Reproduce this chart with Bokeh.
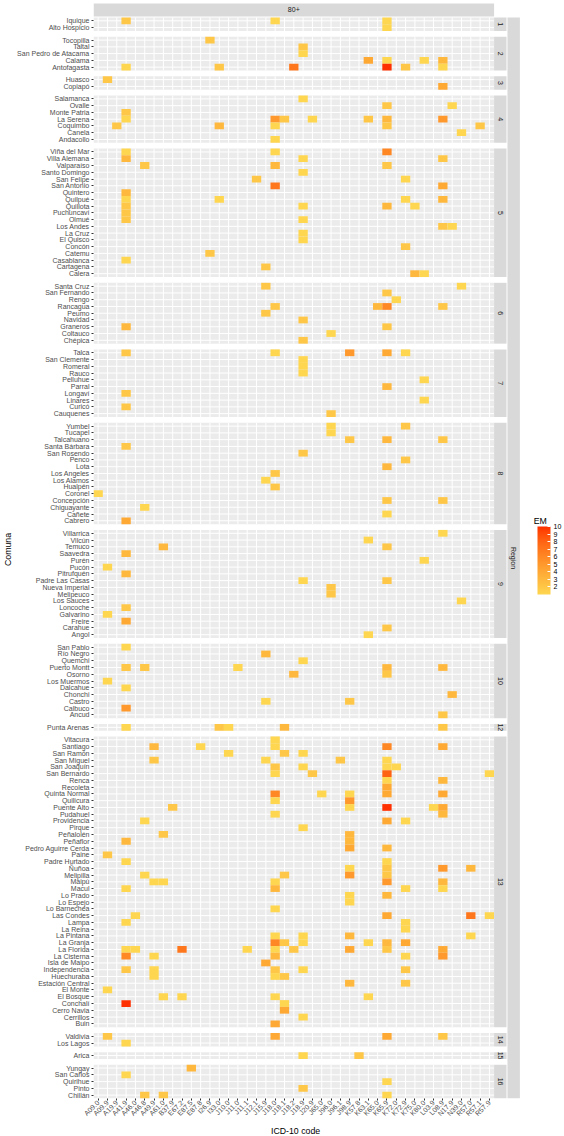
import math
from bokeh.plotting import figure
from bokeh.models import (Range1d, FixedTicker, LinearColorMapper, ColorBar, ColumnDataSource, Title,
                          AllLabels)
from bokeh.core.properties import value
from bokeh.embed import file_html
from bokeh.resources import INLINE

# ---------------- data ----------------
codes = ["A09.0", "A09.9", "A19.9", "A41.9", "A46.0", "A46.8", "A49.9", "A61.0", "B37.9",
         "E67.2", "E87.5", "E87.8", "I26.9", "I33.0", "J10.0", "J11.0", "J11.1", "J12.1",
         "J15.9", "J18.0", "J18.1", "J18.2", "J18.9", "J20.9", "J65.0", "J96.0", "J96.1",
         "J98.9", "K57.8", "K63.1", "K65.0", "K65.9", "K72.0", "K72.9", "K75.0", "K80.0",
         "L03.9", "L08.9", "N17.9", "N39.0", "R57.0", "R57.1", "R57.9"]

region_labels = ["1", "2", "3", "4", "5", "6", "7", "8", "9", "10", "12", "13", "14", "15", "16"]

comunas_r1 = ["Iquique", "Alto Hospicio"]
comunas_r2 = ["Tocopilla", "Taltal", "San Pedro de Atacama", "Calama", "Antofagasta"]
comunas_r3 = ["Huasco", "Copiapó"]
comunas_r4 = ["Salamanca", "Ovalle", "Monte Patria", "La Serena", "Coquimbo", "Canela", "Andacollo"]
comunas_r5 = ["Viña del Mar", "Villa Alemana", "Valparaíso", "Santo Domingo", "San Felipe",
              "San Antonio", "Quintero", "Quilpué", "Quillota", "Puchuncaví", "Olmué",
              "Los Andes", "La Cruz", "El Quisco", "Concón", "Catemu", "Casablanca",
              "Cartagena", "Calera"]
comunas_r6 = ["Santa Cruz", "San Fernando", "Rengo", "Rancagua", "Peumo", "Navidad",
              "Graneros", "Coltauco", "Chépica"]
comunas_r7 = ["Talca", "San Clemente", "Romeral", "Rauco", "Pelluhue", "Parral", "Longaví",
              "Linares", "Curicó", "Cauquenes"]
comunas_r8 = ["Yumbel", "Tucapel", "Talcahuano", "Santa Bárbara", "San Rosendo", "Penco",
              "Lota", "Los Angeles", "Los Alamos", "Hualpén", "Coronel", "Concepción",
              "Chiguayante", "Cañete", "Cabrero"]
comunas_r9 = ["Villarrica", "Vilcún", "Temuco", "Saavedra", "Purén", "Pucón", "Pitrufquén",
              "Padre Las Casas", "Nueva Imperial", "Melipeuco", "Los Sauces", "Loncoche",
              "Galvarino", "Freire", "Carahue", "Angol"]
comunas_r10 = ["San Pablo", "Río Negro", "Quemchi", "Puerto Montt", "Osorno", "Los Muermos",
               "Dalcahue", "Chonchi", "Castro", "Calbuco", "Ancud"]
comunas_r12 = ["Punta Arenas"]
comunas_r13 = ["Vitacura", "Santiago", "San Ramón", "San Miguel", "San Joaquín", "San Bernardo",
               "Renca", "Recoleta", "Quinta Normal", "Quilicura", "Puente Alto", "Pudahuel",
               "Providencia", "Pirque", "Peñalolén", "Peñaflor", "Pedro Aguirre Cerda", "Paine",
               "Padre Hurtado", "Ñuñoa", "Melipilla", "Maipú", "Macul", "Lo Prado", "Lo Espejo",
               "Lo Barnechea", "Las Condes", "Lampa", "La Reina", "La Pintana", "La Granja",
               "La Florida", "La Cisterna", "Isla de Maipo", "Independencia", "Huechuraba",
               "Estación Central", "El Monte", "El Bosque", "Conchalí", "Cerro Navia",
               "Cerrillos", "Buin"]
comunas_r14 = ["Valdivia", "Los Lagos"]
comunas_r15 = ["Arica"]
comunas_r16 = ["Yungay", "San Carlos", "Quirihue", "Pinto", "Chillán"]

region_comunas = [comunas_r1, comunas_r2, comunas_r3, comunas_r4, comunas_r5, comunas_r6,
                  comunas_r7, comunas_r8, comunas_r9, comunas_r10, comunas_r12, comunas_r13,
                  comunas_r14, comunas_r15, comunas_r16]

# (comuna, ICD-10 code, EM)
cells_r1 = [("Iquique", "A41.9", 2), ("Iquique", "J18.0", 1), ("Iquique", "K65.9", 1),
            ("Alto Hospicio", "K65.9", 1)]
cells_r2 = [("Tocopilla", "I26.9", 2), ("Taltal", "J18.9", 2), ("San Pedro de Atacama", "J18.9", 1),
            ("Calama", "K63.1", 4), ("Calama", "K65.9", 1), ("Calama", "K80.0", 1), ("Calama", "L08.9", 3),
            ("Antofagasta", "A41.9", 1), ("Antofagasta", "I33.0", 2), ("Antofagasta", "J18.2", 7),
            ("Antofagasta", "K65.9", 10), ("Antofagasta", "K72.9", 2), ("Antofagasta", "L08.9", 1)]
cells_r3 = [("Huasco", "A09.9", 2), ("Copiapó", "L08.9", 4)]
cells_r4 = [("Salamanca", "J18.9", 1), ("Ovalle", "K65.9", 2), ("Ovalle", "N17.9", 1),
            ("Monte Patria", "A41.9", 2),
            ("La Serena", "A41.9", 1), ("La Serena", "J18.0", 5), ("La Serena", "J18.1", 2),
            ("La Serena", "J20.9", 1), ("La Serena", "K63.1", 2), ("La Serena", "K65.9", 3),
            ("La Serena", "L08.9", 5),
            ("Coquimbo", "A19.9", 2), ("Coquimbo", "I33.0", 3), ("Coquimbo", "J18.0", 1),
            ("Coquimbo", "K65.9", 2), ("Coquimbo", "R57.1", 2),
            ("Canela", "N39.0", 1), ("Andacollo", "J18.0", 1)]
cells_r5 = [("Viña del Mar", "A41.9", 1), ("Viña del Mar", "J18.0", 1), ("Viña del Mar", "K65.9", 6),
            ("Villa Alemana", "A41.9", 3), ("Villa Alemana", "J18.9", 1), ("Villa Alemana", "L08.9", 2),
            ("Valparaíso", "A46.8", 2), ("Valparaíso", "J18.0", 3), ("Valparaíso", "K65.9", 2),
            ("Santo Domingo", "J18.9", 1),
            ("San Felipe", "J12.1", 2), ("San Felipe", "K72.9", 1),
            ("San Antonio", "J18.0", 7), ("San Antonio", "L08.9", 4),
            ("Quintero", "A41.9", 3),
            ("Quilpué", "A41.9", 1), ("Quilpué", "I33.0", 1), ("Quilpué", "K72.9", 1), ("Quilpué", "L08.9", 3),
            ("Quillota", "A41.9", 2), ("Quillota", "J18.9", 1), ("Quillota", "K65.9", 3), ("Quillota", "K75.0", 1),
            ("Puchuncaví", "A41.9", 2),
            ("Olmué", "A41.9", 2), ("Olmué", "J18.9", 1),
            ("Los Andes", "L08.9", 2), ("Los Andes", "N17.9", 1),
            ("La Cruz", "J18.9", 1), ("El Quisco", "J18.9", 1), ("Concón", "K72.9", 2),
            ("Catemu", "I26.9", 2), ("Casablanca", "A41.9", 1), ("Cartagena", "J15.9", 2),
            ("Calera", "K75.0", 3), ("Calera", "K80.0", 1)]
cells_r6 = [("Santa Cruz", "J15.9", 2), ("Santa Cruz", "N39.0", 1), ("San Fernando", "K65.9", 2),
            ("Rengo", "K72.0", 1),
            ("Rancagua", "J18.0", 2), ("Rancagua", "K65.0", 3), ("Rancagua", "K65.9", 6), ("Rancagua", "L08.9", 2),
            ("Peumo", "J15.9", 2), ("Navidad", "J18.9", 2),
            ("Graneros", "A41.9", 3), ("Graneros", "K65.9", 2),
            ("Coltauco", "J96.0", 1), ("Chépica", "J18.9", 2)]
cells_r7 = [("Talca", "A41.9", 2), ("Talca", "J18.0", 1), ("Talca", "J98.9", 5), ("Talca", "K65.9", 4),
            ("Talca", "K72.9", 1),
            ("San Clemente", "J18.9", 1), ("Romeral", "J18.9", 1), ("Rauco", "J18.9", 1),
            ("Pelluhue", "K80.0", 1), ("Parral", "K65.9", 3), ("Longaví", "A41.9", 2),
            ("Linares", "K80.0", 1), ("Curicó", "A41.9", 2), ("Cauquenes", "J96.0", 2)]
cells_r8 = [("Yumbel", "J96.0", 1), ("Yumbel", "K72.9", 2), ("Tucapel", "J96.0", 1),
            ("Talcahuano", "J98.9", 2), ("Talcahuano", "K65.9", 3), ("Talcahuano", "L08.9", 2),
            ("Santa Bárbara", "A41.9", 2), ("San Rosendo", "J18.9", 2), ("Penco", "K72.9", 2),
            ("Lota", "K65.9", 3), ("Los Angeles", "J18.0", 2), ("Los Alamos", "J15.9", 1),
            ("Hualpén", "J18.0", 2), ("Coronel", "A09.0", 1),
            ("Concepción", "K65.9", 2), ("Concepción", "L08.9", 2),
            ("Chiguayante", "A46.8", 1), ("Cañete", "K65.9", 1), ("Cabrero", "A41.9", 4)]
cells_r9 = [("Villarrica", "L08.9", 1), ("Vilcún", "K63.1", 1),
            ("Temuco", "A61.0", 3), ("Temuco", "K65.9", 2),
            ("Saavedra", "A41.9", 3), ("Purén", "K80.0", 1), ("Pucón", "A09.9", 1),
            ("Pitrufquén", "A41.9", 3),
            ("Padre Las Casas", "J18.9", 1), ("Padre Las Casas", "K65.9", 2),
            ("Nueva Imperial", "J96.0", 2), ("Melipeuco", "J96.0", 2), ("Los Sauces", "N39.0", 1),
            ("Loncoche", "A41.9", 2), ("Galvarino", "A09.9", 1), ("Freire", "A41.9", 4),
            ("Carahue", "K65.9", 2), ("Angol", "K63.1", 1)]
cells_r10 = [("San Pablo", "A41.9", 1), ("Río Negro", "J15.9", 3), ("Quemchi", "J18.9", 1),
             ("Puerto Montt", "A41.9", 2), ("Puerto Montt", "A46.8", 2), ("Puerto Montt", "J11.0", 1),
             ("Puerto Montt", "K65.9", 3), ("Puerto Montt", "L08.9", 3),
             ("Osorno", "J18.2", 3), ("Osorno", "K65.9", 2),
             ("Los Muermos", "A09.9", 1), ("Dalcahue", "A41.9", 1), ("Chonchi", "N17.9", 3),
             ("Castro", "J15.9", 1), ("Castro", "J98.9", 2), ("Calbuco", "A41.9", 5),
             ("Ancud", "L08.9", 2)]
cells_r12 = [("Punta Arenas", "A41.9", 1), ("Punta Arenas", "I33.0", 2), ("Punta Arenas", "J10.0", 1),
             ("Punta Arenas", "J18.1", 3), ("Punta Arenas", "L08.9", 2)]
cells_r13 = [("Vitacura", "J18.0", 1),
             ("Santiago", "A49.9", 3), ("Santiago", "E87.8", 1), ("Santiago", "J18.0", 1),
             ("Santiago", "K65.9", 6), ("Santiago", "L08.9", 4),
             ("San Ramón", "J10.0", 1), ("San Ramón", "J18.1", 2), ("San Ramón", "J18.9", 1),
             ("San Miguel", "A49.9", 2), ("San Miguel", "J15.9", 1), ("San Miguel", "J96.1", 2),
             ("San Miguel", "K65.9", 1),
             ("San Joaquín", "J18.0", 2), ("San Joaquín", "J18.9", 1), ("San Joaquín", "K65.9", 1),
             ("San Joaquín", "K72.0", 1),
             ("San Bernardo", "J18.0", 1), ("San Bernardo", "J20.9", 2), ("San Bernardo", "K65.9", 8),
             ("San Bernardo", "R57.9", 1),
             ("Renca", "K65.9", 1), ("Renca", "L08.9", 3), ("Recoleta", "K65.9", 4),
             ("Quinta Normal", "J18.0", 6), ("Quinta Normal", "J65.0", 1), ("Quinta Normal", "J98.9", 1),
             ("Quinta Normal", "K65.9", 4), ("Quinta Normal", "L08.9", 4),
             ("Quilicura", "J18.0", 1), ("Quilicura", "J98.9", 5),
             ("Puente Alto", "B37.9", 2), ("Puente Alto", "J98.9", 1), ("Puente Alto", "K65.9", 10),
             ("Puente Alto", "L03.9", 1), ("Puente Alto", "L08.9", 4),
             ("Pudahuel", "J18.0", 1), ("Pudahuel", "L08.9", 3),
             ("Providencia", "A46.8", 1), ("Providencia", "K65.9", 4), ("Providencia", "K72.9", 1),
             ("Pirque", "J18.9", 1),
             ("Peñalolén", "A61.0", 2), ("Peñalolén", "J98.9", 3),
             ("Peñaflor", "A41.9", 3), ("Peñaflor", "J98.9", 3),
             ("Pedro Aguirre Cerda", "J98.9", 4), ("Pedro Aguirre Cerda", "K65.9", 3),
             ("Paine", "A09.9", 2),
             ("Padre Hurtado", "A41.9", 1), ("Padre Hurtado", "K65.9", 1),
             ("Ñuñoa", "J98.9", 1), ("Ñuñoa", "K65.9", 2), ("Ñuñoa", "L08.9", 5), ("Ñuñoa", "R57.0", 3),
             ("Melipilla", "A46.8", 1), ("Melipilla", "J18.1", 2), ("Melipilla", "J98.9", 5),
             ("Melipilla", "K65.9", 2),
             ("Maipú", "A49.9", 1), ("Maipú", "A61.0", 1), ("Maipú", "J18.0", 1), ("Maipú", "K65.9", 5),
             ("Maipú", "L08.9", 3),
             ("Macul", "A41.9", 1), ("Macul", "J18.0", 3), ("Macul", "K72.9", 1), ("Macul", "L08.9", 1),
             ("Lo Prado", "J98.9", 1), ("Lo Prado", "K65.9", 3), ("Lo Espejo", "J98.9", 1),
             ("Lo Barnechea", "J18.0", 1),
             ("Las Condes", "A46.0", 1), ("Las Condes", "K65.9", 4), ("Las Condes", "R57.0", 7),
             ("Las Condes", "R57.9", 1),
             ("Lampa", "A41.9", 1), ("Lampa", "K72.9", 1), ("La Reina", "K72.9", 1),
             ("La Pintana", "J18.0", 1), ("La Pintana", "J18.9", 1), ("La Pintana", "J98.9", 3),
             ("La Pintana", "R57.0", 1),
             ("La Granja", "J18.0", 6), ("La Granja", "J18.1", 2), ("La Granja", "J18.9", 1),
             ("La Granja", "K63.1", 1), ("La Granja", "K65.9", 3), ("La Granja", "K72.9", 4),
             ("La Florida", "A41.9", 1), ("La Florida", "A46.0", 1), ("La Florida", "E67.2", 7),
             ("La Florida", "J11.1", 1), ("La Florida", "J18.0", 1), ("La Florida", "J18.2", 2),
             ("La Florida", "J98.9", 4), ("La Florida", "K65.9", 2), ("La Florida", "L08.9", 4),
             ("La Cisterna", "A41.9", 6), ("La Cisterna", "A49.9", 1), ("La Cisterna", "J18.0", 3),
             ("La Cisterna", "K72.9", 1), ("La Cisterna", "L08.9", 5),
             ("Isla de Maipo", "J15.9", 4),
             ("Independencia", "A41.9", 2), ("Independencia", "A49.9", 1), ("Independencia", "J18.0", 2),
             ("Independencia", "J18.9", 1), ("Independencia", "K72.9", 2),
             ("Huechuraba", "A49.9", 1), ("Huechuraba", "J18.0", 1), ("Huechuraba", "J18.1", 2),
             ("Estación Central", "J98.9", 3), ("Estación Central", "K72.9", 2),
             ("El Monte", "A09.9", 1),
             ("El Bosque", "A61.0", 1), ("El Bosque", "E67.2", 1), ("El Bosque", "J18.0", 1),
             ("El Bosque", "K63.1", 1),
             ("Conchalí", "A41.9", 10), ("Conchalí", "J18.1", 1), ("Cerro Navia", "J18.1", 4),
             ("Cerrillos", "J18.9", 1), ("Buin", "J18.0", 4)]
cells_r14 = [("Valdivia", "A09.9", 2), ("Valdivia", "J18.0", 4), ("Valdivia", "K65.9", 4),
             ("Valdivia", "L08.9", 2), ("Los Lagos", "A41.9", 1)]
cells_r15 = [("Arica", "J18.9", 1), ("Arica", "K57.8", 2)]
cells_r16 = [("Yungay", "E87.5", 3), ("San Carlos", "A41.9", 1), ("Quirihue", "K65.9", 1),
             ("Pinto", "J18.9", 2), ("Chillán", "A46.8", 2), ("Chillán", "A61.0", 2),
             ("Chillán", "K65.9", 1)]

em_low, em_high = 1, 10
em_ticks = [2, 3, 4, 5, 6, 7, 8, 9, 10]
color_low, color_high = "#FFD64F", "#FF3000"

# ---------------- helpers ----------------
def hex_to_lab(h):
    r, g, b = [int(h[i:i + 2], 16) / 255 for i in (1, 3, 5)]
    lin = lambda c: c / 12.92 if c <= 0.04045 else ((c + 0.055) / 1.055) ** 2.4
    r, g, b = lin(r), lin(g), lin(b)
    x = (0.4124 * r + 0.3576 * g + 0.1805 * b) / 0.95047
    y = (0.2126 * r + 0.7152 * g + 0.0722 * b)
    z = (0.0193 * r + 0.1192 * g + 0.9505 * b) / 1.08883
    f = lambda t: t ** (1 / 3) if t > 0.008856 else 7.787 * t + 16 / 116
    fx, fy, fz = f(x), f(y), f(z)
    return (116 * fy - 16, 500 * (fx - fy), 200 * (fy - fz))

def lab_to_hex(L, a, b):
    fy = (L + 16) / 116
    fx = fy + a / 500
    fz = fy - b / 200
    finv = lambda t: t ** 3 if t ** 3 > 0.008856 else (t - 16 / 116) / 7.787
    x, y, z = finv(fx) * 0.95047, finv(fy), finv(fz) * 1.08883
    r = 3.2406 * x - 1.5372 * y - 0.4986 * z
    g = -0.9689 * x + 1.8758 * y + 0.0415 * z
    bb = 0.0557 * x - 0.2040 * y + 1.0570 * z
    def gam(c):
        c = max(0.0, min(1.0, c))
        return 12.92 * c if c <= 0.0031308 else 1.055 * c ** (1 / 2.4) - 0.055
    return "#%02x%02x%02x" % tuple(int(round(gam(c) * 255)) for c in (r, g, bb))

la, lb = hex_to_lab(color_low), hex_to_lab(color_high)
palette = [lab_to_hex(*[la[k] + (lb[k] - la[k]) * i / 255 for k in range(3)]) for i in range(256)]

# ---------------- layout ----------------
W, H = 564, 1136
LEFT, BOTTOM = 89, 34
PANEL_W = 404
FONT = "Liberation Sans"
frame_w, frame_h = W - LEFT, H - BOTTOM
ncol = len(codes)
cw = PANEL_W / ncol
strip_top, strip_bottom = 3, 16
panel_top0 = 17
gap_ratio = 0.85
n_rows = sum(len(c) for c in region_comunas)
row_h = (frame_h - panel_top0) / (n_rows + (len(region_comunas) - 1) * gap_ratio)
gap = row_h * gap_ratio

row_y = {}
panels = []
yy = panel_top0
for com in region_comunas:
    top = yy
    for k, c in enumerate(com):
        row_y[c] = round(top + (k + 0.5) * row_h, 3)
    bottom = top + len(com) * row_h
    panels.append((top, bottom))
    yy = bottom + gap
panel_bottom = panels[-1][1]

x_left, x_right = -0.5, ncol - 0.5
x_end = x_left + frame_w / cw
px_to_x = lambda px: x_left + (px - LEFT) / cw
s1_l, s1_r = x_right, x_right + 12.5 / cw
s2_l, s2_r = x_right + 13.5 / cw, x_right + 26 / cw

p = figure(width=W, height=H, output_backend="svg", toolbar_location=None,
           x_range=Range1d(x_left, x_end), y_range=Range1d(frame_h, 0),
           min_border_left=LEFT, min_border_right=0, min_border_top=0, min_border_bottom=BOTTOM)
p.grid.visible = False
p.outline_line_color = None
p.background_fill_color = "white"
p.border_fill_color = "white"

# panel backgrounds
p.quad(left=x_left, right=x_right, top=[t for t, b in panels], bottom=[b for t, b in panels],
       fill_color="#EBEBEB", line_color=None)

# grid lines (white, at category centres)
gx0, gx1, gy0, gy1 = [], [], [], []
for t, b in panels:
    for i in range(ncol):
        gx0.append(i); gx1.append(i); gy0.append(t); gy1.append(b)
for c, yc in row_y.items():
    gx0.append(x_left); gx1.append(x_right); gy0.append(yc); gy1.append(yc)
p.segment(x0=gx0, y0=gy0, x1=gx1, y1=gy1, line_color="white", line_width=1)

# tiles
all_cells = (cells_r1 + cells_r2 + cells_r3 + cells_r4 + cells_r5 + cells_r6 + cells_r7 +
             cells_r8 + cells_r9 + cells_r10 + cells_r12 + cells_r13 + cells_r14 + cells_r15 + cells_r16)
mapper = LinearColorMapper(palette=palette, low=em_low, high=em_high)
src = ColumnDataSource(dict(
    x=[codes.index(code) for _, code, _ in all_cells],
    y=[row_y[com] for com, _, _ in all_cells],
    em=[e for _, _, e in all_cells]))
p.rect(x="x", y="y", width=1, height=row_h, source=src,
       fill_color={"field": "em", "transform": mapper}, line_color=None)

# strips
p.quad(left=x_left, right=x_right, top=strip_top, bottom=strip_bottom, fill_color="#D9D9D9", line_color=None)
p.text(x=[(x_left + x_right) / 2], y=[(strip_top + strip_bottom) / 2], text=["80+"],
       text_font=value(FONT), text_font_size="7px", text_color="#1A1A1A",
       text_align="center", text_baseline="middle")
p.quad(left=s1_l, right=s1_r, top=[t for t, b in panels], bottom=[b for t, b in panels],
       fill_color="#D9D9D9", line_color=None)
p.text(x=[(s1_l + s1_r) / 2] * len(panels), y=[(t + b) / 2 for t, b in panels], text=region_labels,
       angle=-math.pi / 2, text_font=value(FONT), text_font_size="7px", text_color="#1A1A1A",
       text_align="center", text_baseline="middle")
p.quad(left=s2_l, right=s2_r, top=panel_top0, bottom=panel_bottom, fill_color="#D9D9D9", line_color=None)
p.text(x=[(s2_l + s2_r) / 2], y=[(panel_top0 + panel_bottom) / 2], text=["Region"],
       angle=-math.pi / 2, text_font=value(FONT), text_font_size="7px", text_color="#1A1A1A",
       text_align="center", text_baseline="middle")

# axes
xa = p.xaxis[0]
xa.ticker = FixedTicker(ticks=list(range(ncol)), minor_ticks=[])
xa.major_label_overrides = {i: c for i, c in enumerate(codes)}
xa.bounds = (x_left, x_right)
xa.major_label_orientation = math.pi / 4

ya = p.yaxis[0]
yticks = [row_y[c] for com in region_comunas for c in com]
ya.ticker = FixedTicker(ticks=yticks, minor_ticks=[])
ya.major_label_overrides = {row_y[c]: c for com in region_comunas for c in com}
ya.bounds = (panel_top0, panel_bottom)
ya.axis_label = "Comuna"

for ax in (xa, ya):
    ax.axis_line_color = None
    ax.minor_tick_line_color = None
    ax.major_tick_line_color = "#333333"
    ax.major_tick_in = 0
    ax.major_tick_out = 2
    ax.major_label_standoff = 2
    ax.major_label_text_font = FONT
    ax.major_label_text_font_size = "7px"
    ax.major_label_text_color = "#4D4D4D"
    ax.axis_label_text_font = FONT
    ax.axis_label_text_font_size = "8.75px"
    ax.axis_label_text_font_style = "normal"
    ax.axis_label_text_color = "black"
    ax.axis_label_standoff = 1
xa.major_label_standoff = 1

# x-axis title, centred under the panels (not under the whole frame)
xtitle = "ICD-10 code"
xtitle_w = 49
p.add_layout(Title(text=xtitle, align="left", offset=(PANEL_W / 2) - xtitle_w / 2,
                   text_font=FONT, text_font_size="8.75px", text_font_style="normal",
                   text_color="black", standoff=2), "below")

# legend
bar_left, bar_top, bar_bottom = 533, 530, 598
cb = ColorBar(color_mapper=mapper, ticker=FixedTicker(ticks=em_ticks), width=13,
              height=bar_bottom - bar_top,
              location=(bar_left - LEFT, frame_h - bar_bottom), padding=0, margin=0,
              major_label_policy=AllLabels(),
              major_label_text_font=FONT, major_label_text_font_size="7px",
              major_label_text_color="black", label_standoff=3,
              major_tick_line_color="white", major_tick_in=3, major_tick_out=0,
              minor_tick_line_color=None, bar_line_color=None,
              background_fill_alpha=0, border_line_color=None)
p.add_layout(cb)
p.text(x=[px_to_x(bar_left)], y=[bar_top - 3], text=["EM"], text_font=value(FONT),
       text_font_size="8.75px", text_color="black", text_align="left", text_baseline="bottom")

open("out.html", "w").write(file_html(p, INLINE))
